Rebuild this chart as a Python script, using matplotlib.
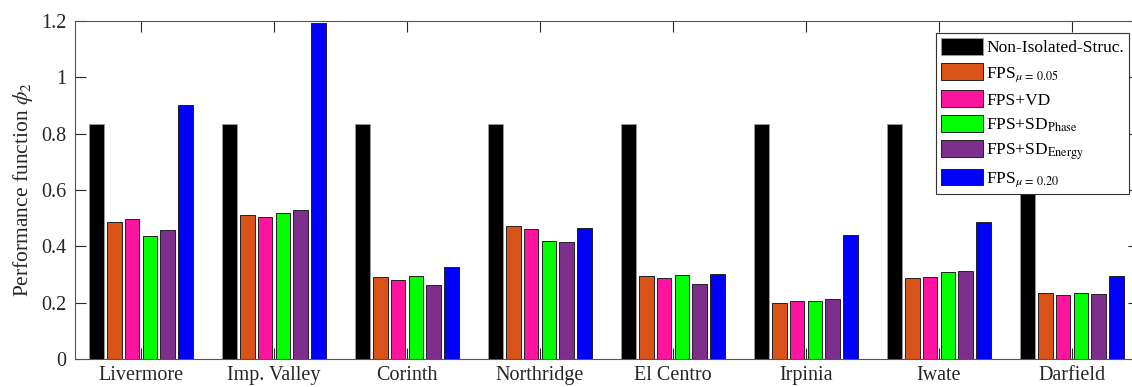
import matplotlib
matplotlib.use('Agg')
import matplotlib.pyplot as plt
import numpy as np

# earthquake records and performance values
records = ['Livermore', 'Imp. Valley', 'Corinth', 'Northridge',
           'El Centro', 'Irpinia', 'Iwate', 'Darfield']

non_isolated = [0.834, 0.834, 0.834, 0.834, 0.834, 0.834, 0.834, 0.834]
fps_005 = [0.486, 0.511, 0.290, 0.473, 0.295, 0.199, 0.289, 0.233]
fps_vd = [0.496, 0.505, 0.279, 0.462, 0.288, 0.205, 0.290, 0.227]
fps_sd_phase = [0.435, 0.517, 0.295, 0.419, 0.297, 0.205, 0.309, 0.235]
fps_sd_energy = [0.459, 0.530, 0.262, 0.415, 0.267, 0.214, 0.314, 0.232]
fps_020 = [0.900, 1.192, 0.328, 0.464, 0.303, 0.439, 0.485, 0.296]

labels = ['Non-Isolated-Struc.',
          r'FPS$_{\mu\,=\,0.05}$',
          'FPS+VD',
          r'FPS+SD$_{\mathrm{Phase}}$',
          r'FPS+SD$_{\mathrm{Energy}}$',
          r'FPS$_{\mu\,=\,0.20}$']
colors = ['#000000', '#D95319', '#FF14A0', '#00FF00', '#7E2F8E', '#0000FF']

plt.rcParams['font.family'] = ['Liberation Serif', 'DejaVu Serif']
plt.rcParams['mathtext.fontset'] = 'stix'

fig = plt.figure(figsize=(11.32, 3.87), dpi=100)
# right edge of the axes lies just past the picture edge, as in the original
ax = fig.add_axes([74.5 / 1132, 1 - 359 / 387, 1064 / 1132, 338 / 387])

series = [non_isolated, fps_005, fps_vd, fps_sd_phase, fps_sd_energy, fps_020]
x = np.arange(1, len(records) + 1)
n = len(series)
step = 0.8 / n
width = step * 0.81
for i, vals in enumerate(series):
    offs = (i - (n - 1) / 2) * step
    ec = '#999999' if i == 0 else '#222222'
    ax.bar(x + offs, vals, width, color=colors[i], edgecolor=ec,
           linewidth=0.7, label=labels[i], zorder=2)

ax.set_xlim(0.5, 8.5)
ax.set_ylim(0, 1.2)
ax.set_xticks(x)
ax.set_xticklabels(records)
ax.set_yticks([0, 0.2, 0.4, 0.6, 0.8, 1.0, 1.2])
ax.set_yticklabels(['0', '0.2', '0.4', '0.6', '0.8', '1', '1.2'])
ax.tick_params(direction='in', length=8, width=0.8, top=True, right=True,
               labelsize=14.5, colors='#262626', labelcolor='#262626', zorder=3)
ax.tick_params(axis='x', pad=5)
ax.tick_params(axis='y', pad=6)
for s in ax.spines.values():
    s.set_color('#555555')
    s.set_linewidth(0.8)
    s.set_zorder(4)
ax.set_ylabel(r'Performance function $\phi_2$', fontsize=15.5, color='#262626',
              labelpad=4)

leg = ax.legend(loc='upper right', bbox_to_anchor=(1129 / 1132, 1 - 33 / 387),
                bbox_transform=fig.transFigure, borderaxespad=0, fontsize=12.5,
                fancybox=False, framealpha=1, edgecolor='#333333',
                handlelength=2.4, handleheight=1.1, handletextpad=0.2,
                labelspacing=0.38, borderpad=0.3)
leg.get_frame().set_linewidth(0.8)
leg.set_zorder(5)

fig.savefig('out.png', dpi=100)
